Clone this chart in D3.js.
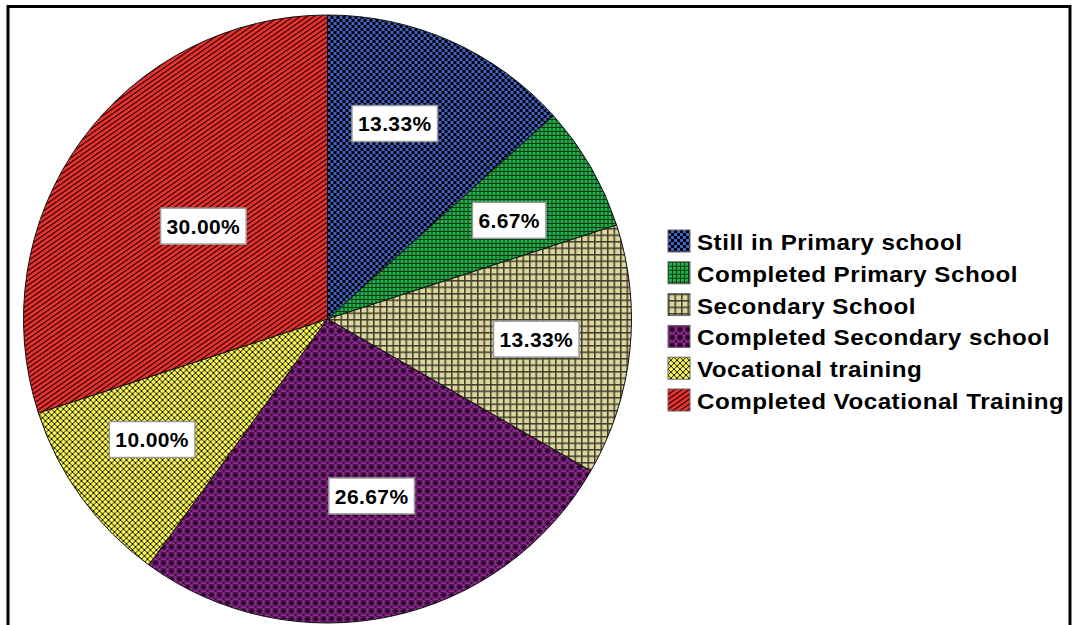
<!DOCTYPE html>
<html>
<head>
<meta charset="utf-8">
<script src="https://cdn.jsdelivr.net/npm/d3@7"></script>
<style>
  html, body { margin: 0; padding: 0; background: #fff; }
  svg { display: block; font-family: "Liberation Sans", Arial, sans-serif; }
</style>
</head>
<body>
<svg id="chart" width="1073" height="625"></svg>
<script>
// Education level of respondents (percent of 30 respondents)
const categories = [
  "Still in Primary school",
  "Completed Primary School",
  "Secondary School",
  "Completed Secondary school",
  "Vocational training",
  "Completed Vocational Training"
];
const percents = [13.33, 6.67, 13.33, 26.67, 10.00, 30.00];
const percentLabels = ["13.33%", "6.67%", "13.33%", "26.67%", "10.00%", "30.00%"];
const patternIds = ["pBlue", "pGreen", "pTan", "pPurple", "pYellow", "pRed"];

const svg = d3.select("#chart");
const defs = svg.append("defs");

// ---- fill patterns ----
function pattern(id, w, h, bg) {
  const p = defs.append("pattern").attr("id", id)
    .attr("patternUnits", "userSpaceOnUse").attr("width", w).attr("height", h);
  p.append("rect").attr("width", w).attr("height", h).attr("fill", bg);
  return p;
}
// blue checkerboard
let p = pattern("pBlue", 6, 6, "#4062c8");
p.append("rect").attr("x", 0).attr("y", 0).attr("width", 3).attr("height", 3).attr("fill", "#000");
p.append("rect").attr("x", 3).attr("y", 3).attr("width", 3).attr("height", 3).attr("fill", "#000");
// green fine grid
p = pattern("pGreen", 4, 4, "#23b04a");
p.append("rect").attr("width", 4).attr("height", 1).attr("fill", "#0c3a16");
p.append("rect").attr("width", 1).attr("height", 4).attr("fill", "#0c3a16");
// tan grid
p = pattern("pTan", 6.5, 6.5, "#dad69c");
p.append("rect").attr("width", 6.5).attr("height", 1.5).attr("fill", "#403c2e");
p.append("rect").attr("width", 1.5).attr("height", 6.5).attr("fill", "#403c2e");
// purple with dark crosses
p = pattern("pPurple", 8, 8, "#8e2890");
p.append("path").attr("d", "M0,0L8,8M8,0L0,8").attr("stroke", "#2a0a2a").attr("stroke-width", 1);
p.append("path").attr("d", "M4,1V7M1,4H7").attr("stroke", "#1a001a").attr("stroke-width", 1.4);
// yellow diamond lattice
p = pattern("pYellow", 6, 6, "#f6f35c");
p.append("path").attr("d", "M0,0L6,6M6,0L0,6").attr("stroke", "#1a1a00").attr("stroke-width", 1);
// red diagonal stripes
p = pattern("pRed", 4, 4, "#e8322f");
p.attr("patternTransform", "rotate(-35)");
p.append("rect").attr("width", 4).attr("height", 1.1).attr("fill", "#1a0000");

// ---- frame ----
svg.append("rect")
  .attr("x", 8).attr("y", 6.5).attr("width", 1062).attr("height", 640)
  .attr("fill", "none").attr("stroke", "#000").attr("stroke-width", 3);

// ---- pie ----
const cx = 327.5, cy = 319, R = 304;
const g = svg.append("g").attr("transform", `translate(${cx},${cy})`);

const pie = d3.pie().sort(null).value(d => d);
const arcs = pie(percents);
const arc = d3.arc().innerRadius(0).outerRadius(R);

g.selectAll("path.slice")
  .data(arcs)
  .join("path")
  .attr("class", "slice")
  .attr("d", arc)
  .attr("fill", (d, i) => `url(#${patternIds[i]})`)
  .attr("stroke", "#111")
  .attr("stroke-width", 1);

// ---- value labels ----
const labelRadius = [0.68, 0.68, 0.69, 0.60, 0.70, 0.51];
const labelShift = [-5, 1.5, -0.5, -2, 1.5, 0.8]; // degrees
const labels = g.selectAll("g.lbl")
  .data(arcs)
  .join("g")
  .attr("class", "lbl")
  .attr("transform", (d, i) => {
    const a = (d.startAngle + d.endAngle) / 2 + labelShift[i] * Math.PI / 180;
    const r = R * labelRadius[i];
    return `translate(${r * Math.sin(a)},${-r * Math.cos(a)})`;
  });

labels.append("text")
  .attr("text-anchor", "middle")
  .attr("dy", "0.36em")
  .attr("font-size", 21)
  .attr("font-weight", "bold")
  .attr("letter-spacing", 0.4)
  .attr("fill", "#000")
  .text((d, i) => percentLabels[i]);

labels.each(function() {
  const gg = d3.select(this);
  const bb = gg.select("text").node().getBBox();
  gg.insert("rect", "text")
    .attr("x", bb.x - 6).attr("y", -18)
    .attr("width", bb.width + 12).attr("height", 36)
    .attr("fill", "#fff").attr("stroke", "#999").attr("stroke-width", 1.5);
});

// ---- legend ----
const legend = svg.append("g").attr("transform", "translate(668,230)");
const rowH = 31.8;
const items = legend.selectAll("g.item")
  .data(categories)
  .join("g")
  .attr("class", "item")
  .attr("transform", (d, i) => `translate(0,${i * rowH})`);

items.append("rect")
  .attr("width", 22).attr("height", 22)
  .attr("fill", (d, i) => `url(#${patternIds[i]})`)
  .attr("stroke", "#666").attr("stroke-width", 1);

items.append("text")
  .attr("transform", "translate(29,20) scale(1.1,1)")
  .attr("font-size", 22)
  .attr("font-weight", "bold")
  .attr("letter-spacing", 0.45)
  .attr("fill", "#000")
  .text(d => d);
</script>
</body>
</html>
